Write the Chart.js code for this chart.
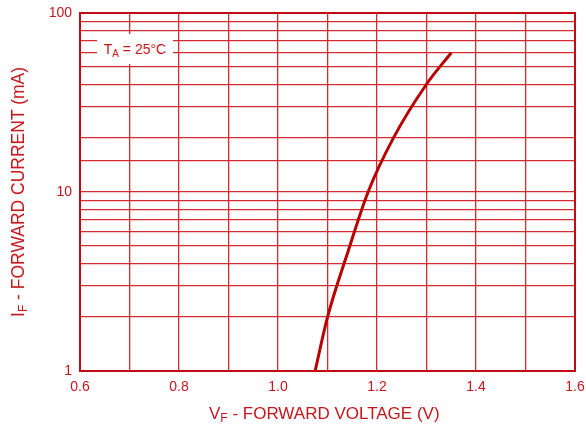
<!DOCTYPE html>
<html lang="en">
<head>
    <meta charset="UTF-8" />
    <title>Forward Voltage vs Forward Current</title>
    <script src="https://cdn.jsdelivr.net/npm/chart.js"></script>
    <style>
        body { margin: 0; background: #fff; font-family: "Liberation Sans", Arial, sans-serif; }
        .wrap { position: relative; width: 586px; height: 433px; }
        canvas { position: absolute; left: 0; top: 0; }
        .titulo { position: absolute; color: #c4161c; font-size: 17px; white-space: nowrap; }
        .titulo sub { font-size: 12px; vertical-align: -3px; }
        #tituloX { left: 209px; top: 404px; }
        #tituloY { left: 19px; top: 192px; transform: translate(-50%, -50%) rotate(-90deg); font-size: 17.5px; }
        #legenda { position: absolute; left: 97px; top: 34px; width: 76px; height: 30px; background: #fff;
            color: #c4161c; font-size: 14px; line-height: 30px; text-align: center; }
        #legenda sub { font-size: 10px; vertical-align: -3px; }
    </style>
</head>
<body>
    <div class="wrap">
        <canvas id="grafico" width="586" height="433"></canvas>
        <div class="titulo" id="tituloX">V<sub>F</sub> - FORWARD VOLTAGE (V)</div>
        <div class="titulo" id="tituloY">I<sub>F</sub> - FORWARD CURRENT (mA)</div>
        <div id="legenda">T<sub>A</sub> = 25°C</div>
    </div>

    <script>
        // curva
        const tensao = [1.075, 1.10, 1.142, 1.182, 1.233, 1.30, 1.35];
        const corrente = [1, 2, 4.7, 10, 20, 40, 60];
        const rotulosY = [1, 10, 100];

        const vermelho = '#c4161c';
        const grade = '#d42a32';

        const borda = {
            id: 'borda',
            afterDraw(chart) {
                const a = chart.chartArea, ctx = chart.ctx;
                ctx.save();
                ctx.strokeStyle = '#c00a14';
                ctx.lineWidth = 2;
                ctx.strokeRect(a.left, a.top, a.right - a.left, a.bottom - a.top);
                ctx.restore();
            }
        };

        new Chart(document.getElementById('grafico'), {
            type: 'line',
            data: {
                datasets: [{
                    data: tensao.map((v, i) => ({ x: v, y: corrente[i] })),
                    borderColor: '#b80000',
                    borderWidth: 3,
                    pointRadius: 0,
                    cubicInterpolationMode: 'monotone',
                    fill: false
                }]
            },
            options: {
                responsive: false,
                animation: false,
                layout: { padding: { left: 0, top: 13, right: 11, bottom: 0 } },
                plugins: { legend: { display: false }, tooltip: { enabled: false } },
                scales: {
                    x: {
                        type: 'linear',
                        min: 0.6,
                        max: 1.6,
                        afterFit: s => { s.height = 62; s.paddingLeft = 0; s.paddingRight = 0; },
                        border: { display: false },
                        grid: { color: grade, lineWidth: 1.3, drawTicks: false },
                        ticks: {
                            stepSize: 0.1,
                            autoSkip: false,
                            maxRotation: 0,
                            padding: 8,
                            color: vermelho,
                            font: { family: 'Liberation Sans', size: 14 },
                            callback: v => Math.round(v * 10) % 2 === 0 ? v.toFixed(1) : ''
                        }
                    },
                    y: {
                        type: 'logarithmic',
                        min: 1,
                        max: 100,
                        afterFit: s => { s.width = 80; s.paddingTop = 0; s.paddingBottom = 0; },
                        border: { display: false },
                        grid: { color: grade, lineWidth: 1.3, drawTicks: false },
                        ticks: {
                            autoSkip: false,
                            padding: 8,
                            color: vermelho,
                            font: { family: 'Liberation Sans', size: 14 },
                            callback: v => rotulosY.includes(v) ? String(v) : ''
                        }
                    }
                }
            },
            plugins: [borda]
        });
    </script>
</body>
</html>
